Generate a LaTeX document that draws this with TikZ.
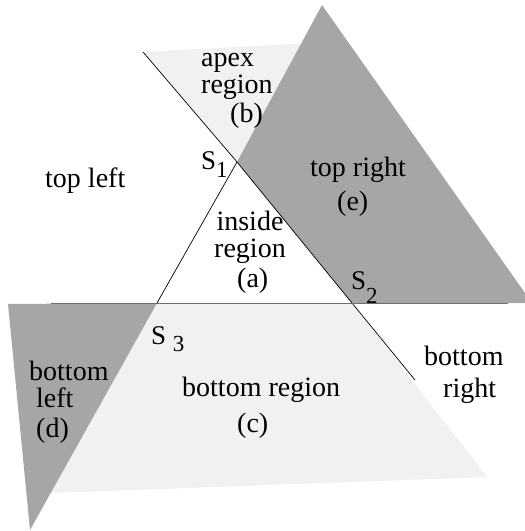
\documentclass[tikz,border=0pt]{standalone}
\usepackage{fontspec}
\setmainfont{Liberation Serif}
\usepackage{tikz}
\definecolor{darkreg}{HTML}{A6A6A6}
\definecolor{lightreg}{HTML}{F1F1F1}
\definecolor{splitcol}{HTML}{6E6E6E}
\newcommand\subnum[2]{\raisebox{-#1}{\fontsize{23}{23}\selectfont #2}}
\newcommand\lblfont{\fontsize{28}{27}\selectfont\setlength{\lineskiplimit}{-30pt}}

\begin{document}
\begin{tikzpicture}[
  x=1pt, y=-1pt,
  lbl/.style={font=\lblfont, inner sep=0pt, anchor=base west},
  slbl/.style={font=\fontsize{27}{27}\selectfont, inner sep=0pt, anchor=base west},
  edge/.style={line width=0.7pt, black},
  split/.style={line width=0.9pt, splitcol},
]
\useasboundingbox (0,0) rectangle (525,531);

% ---------------------------------------------------------------
% Corner points of the inside triangle (pixel-like coordinates, y down)
% ---------------------------------------------------------------
\coordinate (S1) at (237,162);
\coordinate (S2) at (352,303);
\coordinate (S3) at (157,303);

% ===== Shaded regions =====
% apex region (b), under the top right band
\fill[lightreg] (143,52) -- (310,43) -- (S1) -- cycle;
% top right (e)
\fill[darkreg] (322,5) -- (525,293) -- (525,303) -- (S2) -- (S1) -- cycle;
% bottom region (c)
\fill[lightreg] (51,303) -- (S2) -- (487,477) -- (51,493) -- cycle;
% bottom left (d)
\fill[darkreg] (8,304) -- (S3) -- (30,530) -- cycle;

% ===== Separating lines =====
\draw[edge] (143,52) -- (S1) -- (S2) -- (415,380);
\draw[edge] (S1) -- (S3);
\draw[split] (51,303) -- (508,303);

% ===== Vertex labels =====
\node[slbl] (s1lab) at (201,169) {S\subnum{8pt}{1}};
\node[slbl] (s2lab) at (351,289) {S\subnum{14pt}{2}};
\node[slbl] (s3lab) at (151,344) {S \subnum{7pt}{3}};

% ===== Region labels =====
% (multi-line nodes: base anchor sits on the last line)
\node[lbl, align=left] (apex) at (201,93) {apex\\region};
\node[lbl] (apexb) at (230,122) {(b)};

\node[lbl] (tl) at (45,187) {top left};

\node[lbl] (tr1) at (310,176) {top right};
\node[lbl] (tr2) at (337,210) {(e)};

\node[lbl, align=center, anchor=base] (inside) at (250,257) {inside\\region};
\node[lbl] (insidea) at (237,287) {(a)};

\node[lbl, align=left] (bl) at (29,407) {bottom\\\hspace*{7pt}left};
\node[lbl] (bld) at (36,437) {(d)};

\node[lbl] (bot1) at (182,396) {bottom region};
\node[lbl] (bot2) at (237,432) {(c)};

\node[lbl, align=left] (br) at (424,397) {bottom\\[5pt]\hspace*{19pt}right};

\end{tikzpicture}
\end{document}
